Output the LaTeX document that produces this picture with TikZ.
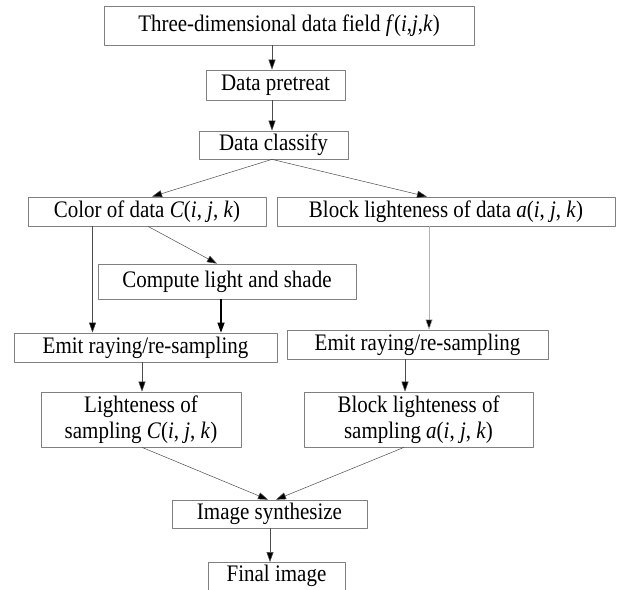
\documentclass[tikz,border=0pt]{standalone}
\usepackage{fontspec}
\setmainfont{Liberation Serif}[FakeStretch=0.885]
\usetikzlibrary{arrows.meta}

\begin{document}
\begin{tikzpicture}[x=1pt, y=-1pt, line join = round,
    box/.style = {draw=black!50, line width=0.7pt, inner sep=0pt, align=center,
                  font=\fontsize{23.7}{26}\selectfont},
    arr/.style = {draw=black!70, line width=0.5pt, -{Triangle[length=10pt,width=7pt,fill=black]}}]
    \useasboundingbox (0,0) rectangle (617,589);
    \clip (0,0) rectangle (617,589);

    \node [box, minimum width=370, minimum height=39] (field) at (289,25.5) {Three-dimensional data field \textit{f}(\textit{i},\textit{j},\textit{k})};
    \node [box, minimum width=139, minimum height=30] (pre) at (275.5,85) {Data pretreat};
    \node [box, minimum width=149, minimum height=28] (classify) at (273.5,145) {Data classify};
    \node [box, minimum width=238, minimum height=29] (color) at (147,211.5) {Color of data \textit{C}(\textit{i}, \textit{j}, \textit{k})};
    \node [box, minimum width=338, minimum height=29] (block) at (446,211.5) {Block lighteness of data \textit{a}(\textit{i}, \textit{j}, \textit{k})};
    \node [box, minimum width=258, minimum height=35] (shade) at (227,281.5) {Compute light and shade};
    \node [box, minimum width=263, minimum height=29] (emitL) at (145.5,347.5) {Emit raying/re-sampling};
    \node [box, minimum width=261, minimum height=29] (emitR) at (417.5,344.5) {Emit raying/re-sampling};
    \node [box, minimum width=200, minimum height=55] (lightC) at (141,419.5) {Lighteness of\\sampling \textit{C}(\textit{i}, \textit{j}, \textit{k})};
    \node [box, minimum width=229, minimum height=55] (lightA) at (418.5,419.5) {Block lighteness of\\sampling \textit{a}(\textit{i}, \textit{j}, \textit{k})};
    \node [box, minimum width=195, minimum height=28] (synth) at (269.5,514) {Image synthesize};
    \node [box, minimum width=137, text height=19pt, text depth=25pt, anchor=north] (final) at (276.5,562) {Final image};

    \draw[arr] ([xshift=-17pt]field.south) -- ([xshift=-3.5pt]pre.north);
    \draw[arr] ([xshift=-3.5pt]pre.south) -- ([xshift=-1.5pt]classify.north);
    \draw[arr] ([xshift=-1.5pt]classify.south) -- ([xshift=5pt]color.north);
    \draw[arr] ([xshift=-1.5pt]classify.south) -- ([xshift=-19pt]block.north);
    \draw[arr] ([xshift=1pt]color.south) -- ([xshift=-10pt]shade.north);
    \draw[arr] ([xshift=-54.5pt]color.south) -- ([xshift=-53pt]emitL.north);
    \draw[arr, draw=black, line width=1.2pt] ([xshift=-6pt]shade.south) -- ([xshift=75.5pt]emitL.north);
    \draw[arr, draw=black!30] ([xshift=-17pt]block.south) -- ([xshift=11.5pt]emitR.north);
    \draw[arr] ([xshift=-3.5pt]emitL.south) -- ([xshift=1pt]lightC.north);
    \draw[arr] ([xshift=-12.5pt]emitR.south) -- ([xshift=-13.5pt]lightA.north);
    \draw[arr] ([xshift=1pt]lightC.south) -- ([xshift=-1.5pt]synth.north);
    \draw[arr] ([xshift=-14.5pt]lightA.south) -- ([xshift=6.5pt]synth.north);
    \draw[arr] ([xshift=0.5pt]synth.south) -- ([xshift=-6.5pt]final.north);
\end{tikzpicture}
\end{document}
